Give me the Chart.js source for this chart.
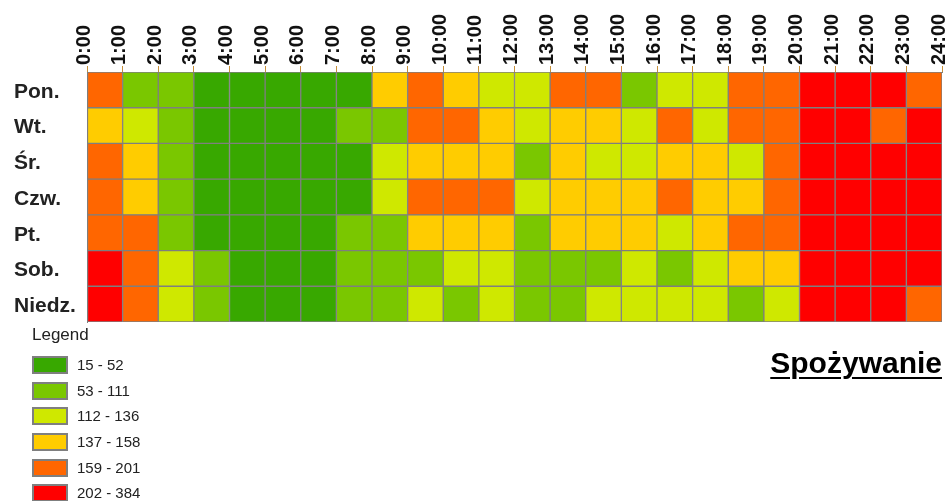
<!DOCTYPE html>
<html lang="pl">
<head>
<meta charset="utf-8">
<title>Spożywanie</title>
<script src="https://cdn.jsdelivr.net/npm/chart.js@4.4.1/dist/chart.umd.min.js"></script>
<style>
  html, body { margin: 0; padding: 0; background: #fff; }
  body { font-family: Arial, 'Liberation Sans', sans-serif; color: #222; }
  .wrap { position: relative; width: 947px; height: 501px; overflow: hidden; }
  .legend-title { position: absolute; left: 32px; top: 326px; font-size: 17px; line-height: 17px; }
  .legend-item { position: absolute; left: 32px; height: 18px; display: flex; align-items: center; font-size: 15px; line-height: 18px; }
  .legend-item .swatch { box-sizing: border-box; width: 36px; height: 18px; border: 2px solid #7f7f7f; margin-right: 9px; }
  .map-title {
    position: absolute; right: 5px; top: 348px; font-size: 30px; line-height: 30px; font-weight: bold; color: #000;
    text-decoration: underline; text-decoration-thickness: 2px; text-underline-offset: 4px;
  }
</style>
</head>
<body>
<div class="wrap">
  <canvas id="chart-heat"></canvas>
  <div class="legend-title">Legend</div>
  <div id="legend"></div>
  <div class="map-title">Spożywanie</div>
</div>
<script>
// hour boundaries along the top
const hourLabels = ['0:00', '1:00', '2:00', '3:00', '4:00', '5:00', '6:00', '7:00', '8:00', '9:00', '10:00', '11:00', '12:00',
  '13:00', '14:00', '15:00', '16:00', '17:00', '18:00', '19:00', '20:00', '21:00', '22:00', '23:00', '24:00'];
const days = ['Pon.', 'Wt.', 'Śr.', 'Czw.', 'Pt.', 'Sob.', 'Niedz.'];

// values per hour (0-1 ... 23-24), estimated from the class colours
const pon   = [178, 96, 61, 34, 22, 18, 27, 48, 152, 185, 149, 128, 131, 190, 176, 104, 124, 133, 188, 196, 245, 287, 231, 183];
const wt    = [146, 119, 74, 31, 19, 16, 35, 66, 92, 171, 182, 141, 127, 150, 144, 130, 169, 121, 193, 180, 262, 298, 197, 226];
const sr    = [165, 139, 83, 29, 17, 15, 24, 45, 115, 147, 153, 140, 108, 156, 126, 133, 145, 138, 119, 174, 251, 310, 276, 214];
const czw   = [172, 143, 70, 26, 20, 16, 30, 50, 122, 167, 189, 177, 135, 148, 155, 142, 186, 151, 137, 199, 270, 384, 295, 238];
const pt    = [186, 163, 88, 38, 21, 18, 42, 77, 102, 158, 146, 139, 99, 153, 157, 144, 113, 149, 191, 201, 258, 336, 302, 247];
const sob   = [224, 195, 125, 58, 33, 23, 39, 57, 85, 101, 117, 132, 110, 94, 89, 129, 107, 136, 154, 137, 277, 345, 318, 265];
const niedz = [209, 184, 112, 53, 37, 28, 51, 62, 79, 120, 111, 126, 97, 82, 116, 134, 129, 123, 105, 136, 233, 279, 254, 198];

// classes
const classMax = [52, 111, 136, 158, 201, 384];
const classLabels = ['15 - 52', '53 - 111', '112 - 136', '137 - 158', '159 - 201', '202 - 384'];
const classColors = ['#38a800', '#7ac700', '#cfe800', '#ffcc00', '#ff6600', '#ff0000'];

const rows = [pon, wt, sr, czw, pt, sob, niedz];

function colorFor(v) {
  const i = classMax.findIndex(m => v <= m);
  return classColors[i < 0 ? classColors.length - 1 : i];
}

// legend
document.getElementById('legend').innerHTML = classLabels.map((l, i) => `
  <div class="legend-item" style="top:${356 + i * 25.67}px">
    <span class="swatch" style="background:${classColors[i]}"></span><span>${l}</span>
  </div>`).join('');

const cells = [];
rows.forEach((vals, d) => {
  vals.forEach((v, h) => cells.push({ x: [h, h + 1], y: days[d], v }));
});

const FONT = "Arial, 'Liberation Sans', sans-serif";

new Chart(document.getElementById('chart-heat'), {
  type: 'bar',
  data: {
    labels: days,
    datasets: [{
      data: cells,
      backgroundColor: c => colorFor(c.raw ? c.raw.v : 0),
      borderColor: '#7f7f7f',
      borderWidth: 1,
      borderSkipped: false,
      barPercentage: 1,
      categoryPercentage: 1
    }]
  },
  options: {
    indexAxis: 'y',
    responsive: true,
    maintainAspectRatio: false,
    animation: false,
    layout: { padding: { left: 14, right: 5, top: 0, bottom: 179 } },
    plugins: {
      legend: { display: false },
      tooltip: { enabled: false }
    },
    scales: {
      x: {
        type: 'linear',
        position: 'top',
        min: 0,
        max: 24,
        afterFit: s => { s.height = 72; },
        grid: { drawOnChartArea: false, drawTicks: true, tickLength: 6, color: '#c8913a', lineWidth: 1 },
        border: { display: true, color: '#7f7f7f', width: 1 },
        ticks: {
          stepSize: 1,
          autoSkip: false,
          minRotation: 90,
          maxRotation: 90,
          padding: 1,
          labelOffset: 21,
          color: '#111',
          font: { family: FONT, size: 20, weight: 'bold' },
          callback: v => hourLabels[v]
        }
      },
      y: {
        type: 'category',
        afterFit: s => { s.width = 73; },
        grid: { display: false },
        border: { display: true, color: '#7f7f7f', width: 1 },
        ticks: {
          crossAlign: 'far',
          labelOffset: 2,
          color: '#222',
          font: { family: FONT, size: 21, weight: 'bold' }
        }
      }
    }
  }
});
</script>
</body>
</html>
